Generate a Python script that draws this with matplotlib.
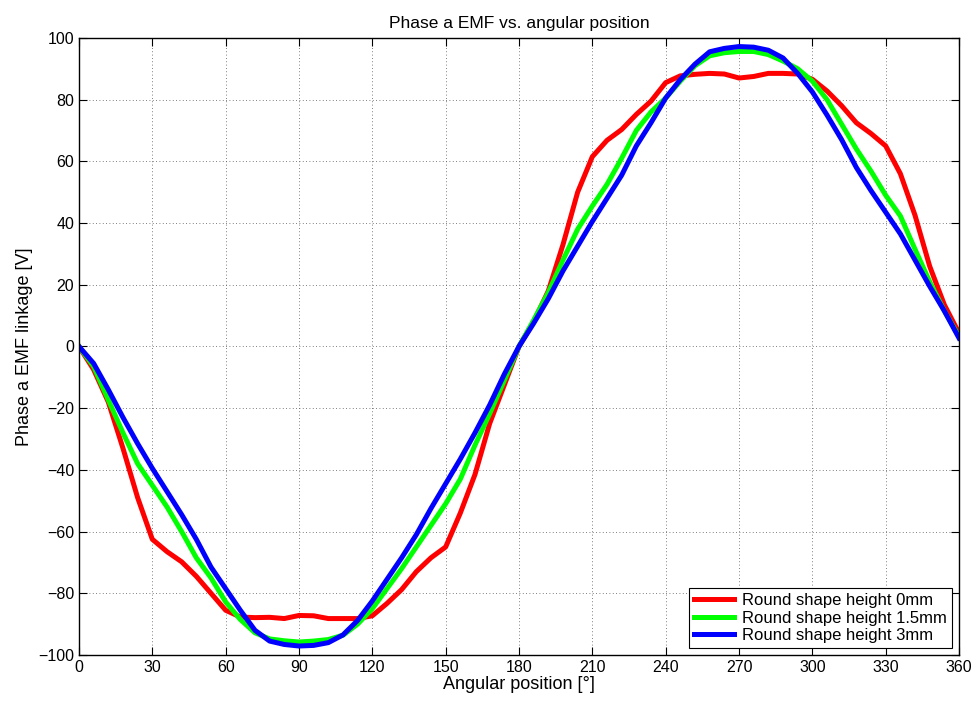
import numpy as np
import matplotlib.pyplot as plt

plt.rcParams['font.family'] = ['Liberation Sans', 'DejaVu Sans']

angle = np.arange(0, 361, 6)

emf_0mm = [0, -7.5, -18, -33, -49, -62.5, -66.5, -69.8, -74.5, -80, -85.5,
           -87.7, -87.9, -87.8, -88.2, -87.2, -87.3, -88.2, -88.2, -88.2, -87.3,
           -83.3, -78.8, -73, -68.5, -65, -54, -41.5, -25, -12.5, 0,
           8, 18, 33, 50, 61.5, 66.8, 70.3, 75.2, 79.5, 85.5,
           87.7, 88.2, 88.5, 88.3, 87, 87.5, 88.5, 88.5, 88.3, 86.6,
           82.8, 78, 72.5, 69, 65, 56, 42.5, 26, 13.5, 4.3]

emf_1p5mm = [0, -6.5, -17.3, -28, -38, -45, -52, -60, -68.5, -75, -82.8,
             -88.5, -92.8, -94.8, -95.4, -95.8, -95.5, -95, -93.6, -90, -85,
             -78.5, -72, -65, -58, -51, -43, -32, -21.8, -11, 0,
             8.5, 17.5, 28, 38, 45.5, 52.5, 61, 70, 76, 80.5,
             86, 91, 94.2, 95.2, 95.6, 95.6, 94.6, 92.5, 90, 86,
             80, 72, 64, 56.8, 49, 42.3, 31.5, 21, 11.5, 3.2]

emf_3mm = [0, -5.5, -14, -23, -31.5, -39.5, -47, -54.5, -62.5, -71.5, -78.5,
           -85.5, -92, -95.5, -96.6, -97.1, -96.9, -96, -93.5, -88.8, -82.5,
           -75.5, -68.5, -61, -52.5, -44.5, -36.5, -28, -19, -9, 0,
           7.5, 15.5, 24.5, 32.5, 40.5, 48, 55.5, 65, 72.5, 80.5,
           86.5, 91.5, 95.5, 96.6, 97.2, 97, 96, 93.5, 88.5, 82.5,
           75, 67, 58, 50.5, 43.5, 36.5, 28, 19.5, 11.5, 2.7]

labels = ['Round shape height 0mm', 'Round shape height 1.5mm', 'Round shape height 3mm']

fig = plt.figure(figsize=(9.76, 7.02), dpi=100)
ax = fig.add_axes([0.0809, 0.067, 0.9017, 0.879])

ax.plot(angle, emf_0mm, color='#ff0000', lw=3.6, label=labels[0])
ax.plot(angle, emf_1p5mm, color='#00ff00', lw=3.6, label=labels[1])
ax.plot(angle, emf_3mm, color='#0000ff', lw=3.6, label=labels[2])

ax.set_xlim(0, 360)
ax.set_ylim(-100, 100)
ax.set_xticks(np.arange(0, 361, 30))
ax.set_yticks(np.arange(-100, 101, 20))
ax.set_yticklabels([str(v).replace('-', '\u2212') for v in range(-100, 101, 20)])
ax.tick_params(direction='in', top=True, right=True, length=6, width=0.8,
               labelsize=11.5)
ax.grid(True, linestyle=(0, (1, 3)), color='#555555', linewidth=0.6)
for s in ax.spines.values():
    s.set_linewidth(1.0)

ax.set_xlabel('Angular position [°]', fontsize=13, labelpad=1)
ax.set_ylabel('Phase a EMF linkage [V]', fontsize=13, labelpad=4)
ax.set_title('Phase a EMF vs. angular position', fontsize=12.5, pad=7)

leg = ax.legend(loc='lower right', fontsize=12, fancybox=False, framealpha=1,
                edgecolor='black', handlelength=2.4, borderpad=0.3,
                labelspacing=0.15, handletextpad=0.5, borderaxespad=0.4)
leg.get_frame().set_linewidth(0.8)

fig.savefig('out.png', dpi=100)
